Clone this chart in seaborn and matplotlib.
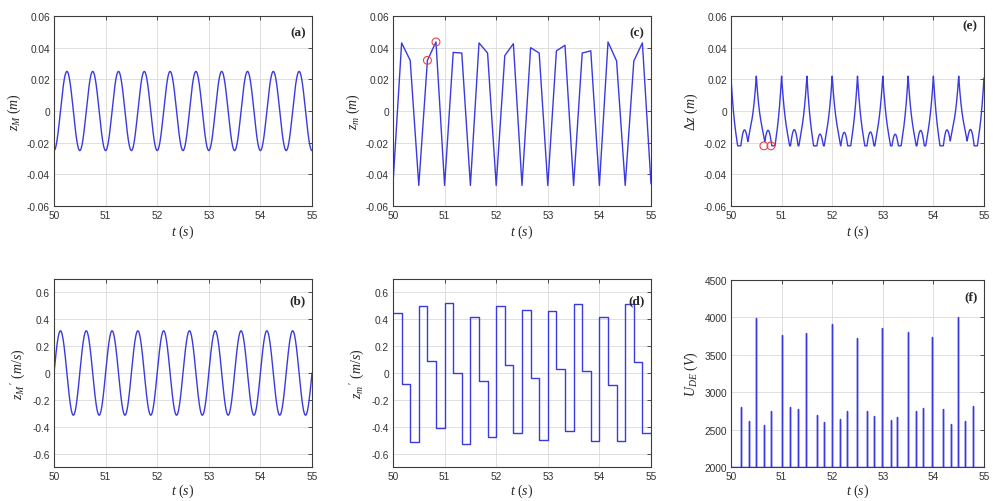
import numpy as np
import pandas as pd
import matplotlib
matplotlib.use("Agg")
import matplotlib.pyplot as plt
import seaborn as sns

# ---------------- data ----------------
# (a)/(b): harmonic base motion z_M
zM_amp = 0.025        # m
zM_freq = 2.0         # Hz
zM_t0 = 50.0          # time of a trough

# (c): z_m vertices
zm_t = [50.000, 50.167, 50.333, 50.500, 50.667, 50.833, 51.000, 51.167, 51.333, 51.500,
        51.667, 51.833, 52.000, 52.167, 52.333, 52.500, 52.667, 52.833, 53.000, 53.167,
        53.333, 53.500, 53.667, 53.833, 54.000, 54.167, 54.333, 54.500, 54.667, 54.833,
        55.000]
zm_v = [-0.046, 0.043, 0.032, -0.047, 0.032, 0.0436, -0.047, 0.037, 0.0366, -0.047,
        0.043, 0.0366, -0.047, 0.035, 0.0425, -0.047, 0.040, 0.0366, -0.047, 0.038,
        0.0415, -0.047, 0.0366, 0.038, -0.047, 0.0436, 0.0316, -0.047, 0.0316, 0.043,
        -0.046]
zm_mark_t = [50.667, 50.833]
zm_mark_v = [0.032, 0.0436]

# (d): z_m' step levels (one per interval of zm_t)
zmd_v = [0.445, -0.079, -0.514, 0.499, 0.086, -0.41, 0.518, -0.003, -0.526, 0.42,
         -0.059, -0.477, 0.50, 0.059, -0.445, 0.469, -0.035, -0.50, 0.462, 0.027,
         -0.435, 0.513, 0.015, -0.507, 0.42, -0.091, -0.507, 0.513, 0.083, -0.445]

# (e): gap limits and marked points
dz_lim = 0.022
dz_mark_t = [50.65, 50.79]
dz_mark_v = [-0.022, -0.022]

# (f): voltage spikes
ude_base = 2000
ude_t = [50.20, 50.35, 50.50, 50.66, 50.79, 51.00, 51.17, 51.32, 51.49, 51.70,
         51.83, 52.00, 52.16, 52.30, 52.49, 52.68, 52.82, 52.99, 53.16, 53.29,
         53.49, 53.66, 53.80, 53.98, 54.19, 54.34, 54.48, 54.63, 54.78]
ude_v = [2802, 2617, 3991, 2568, 2749, 3762, 2797, 2780, 3793, 2696,
         2599, 3907, 2643, 2753, 3731, 2753, 2683, 3855, 2626, 2665,
         3811, 2753, 2784, 3740, 2771, 2577, 4009, 2617, 2811]

x_ticks = [50, 51, 52, 53, 54, 55]
x_ticklabels = ["50", "51", "52", "53", "54", "55"]
z_ticks = [-0.06, -0.04, -0.02, 0, 0.02, 0.04, 0.06]
z_ticklabels = ["-0.06", "-0.04", "-0.02", "0", "0.02", "0.04", "0.06"]
v_ticks = [-0.6, -0.4, -0.2, 0, 0.2, 0.4, 0.6]
v_ticklabels = ["-0.6", "-0.4", "-0.2", "0", "0.2", "0.4", "0.6"]
u_ticks = [2000, 2500, 3000, 3500, 4000, 4500]
u_ticklabels = ["2000", "2500", "3000", "3500", "4000", "4500"]

# ---------------- derived series ----------------
t = np.linspace(50, 55, 4001)
w = 2 * np.pi * zM_freq
zM = -zM_amp * np.cos(w * (t - zM_t0))
zMd = zM_amp * w * np.sin(w * (t - zM_t0))
zm_dense = np.interp(t, zm_t, zm_v)
dz = np.clip(zM - zm_dense, -dz_lim, dz_lim)

step_t = list(zm_t)
step_v = list(zmd_v) + [zmd_v[-1]]

sp_t, sp_v = [50.0], [ude_base]
for ti, vi in zip(ude_t, ude_v):
    sp_t += [ti, ti, ti]
    sp_v += [ude_base, vi, ude_base]
sp_t.append(55.0)
sp_v.append(ude_base)

# ---------------- styling ----------------
sns.set_style("white")
plt.rcParams["font.family"] = ["Liberation Sans", "DejaVu Sans"]
plt.rcParams["mathtext.fontset"] = "custom"
plt.rcParams["mathtext.it"] = "Liberation Serif:italic"
plt.rcParams["mathtext.rm"] = "Liberation Serif"
plt.rcParams["mathtext.cal"] = "Liberation Serif:italic"

LINE = "#3a3ae0"
GRID = "#dedede"
SPINE = "#3c3c3c"
TICKC = "#333333"

fig = plt.figure(figsize=(9.93, 5.02), dpi=100)
W, H = 993.0, 502.0


def make_ax(left, top, right, bottom):
    return fig.add_axes([left / W, 1 - bottom / H, (right - left) / W, (bottom - top) / H])


def style(ax, yticks, yticklabels, ylim, ylabel, letter, letter_y, xlabelpad=2):
    ax.set_xlim(50, 55)
    ax.set_ylim(*ylim)
    ax.set_xticks(x_ticks)
    ax.set_xticklabels(x_ticklabels)
    ax.set_yticks(yticks)
    ax.set_yticklabels(yticklabels)
    ax.grid(True, color=GRID, lw=0.7)
    ax.set_axisbelow(True)
    for s in ax.spines.values():
        s.set_visible(True)
        s.set_color(SPINE)
        s.set_linewidth(0.8)
    ax.tick_params(direction="in", length=3, width=0.6, top=True, right=True,
                   labelsize=7.3, colors=TICKC, pad=3)
    ax.set_xlabel(r"$t\ (s)$", fontsize=10, labelpad=xlabelpad)
    ax.set_ylabel(ylabel, fontsize=10, labelpad=3)
    ax.text(0.975, letter_y, letter, transform=ax.transAxes, ha="right", va="center",
            fontsize=9.5, fontweight="bold", family="Liberation Serif")


axA = make_ax(54, 17, 312, 207)
axC = make_ax(393, 17, 651, 207)
axE = make_ax(731, 17, 984, 207)
axB = make_ax(54, 280, 312, 468)
axD = make_ax(393, 280, 651, 468)
axF = make_ax(731, 281, 984, 468)

# (a)
sns.lineplot(x=t, y=zM, ax=axA, color=LINE, lw=1.0, estimator=None, sort=False)
style(axA, z_ticks, z_ticklabels, (-0.06, 0.06), r"$z_M\ (m)$", "(a)", 0.915)

# (c)
sns.lineplot(x=zm_t, y=zm_v, ax=axC, color=LINE, lw=1.0, estimator=None, sort=False)
axC.scatter(zm_mark_t, zm_mark_v, s=32, facecolors="none", edgecolors="#e8454f", linewidths=0.8, zorder=5)
style(axC, z_ticks, z_ticklabels, (-0.06, 0.06), r"$z_m\ (m)$", "(c)", 0.915)

# (e)
sns.lineplot(x=t, y=dz, ax=axE, color=LINE, lw=1.0, estimator=None, sort=False)
axE.scatter(dz_mark_t, dz_mark_v, s=32, facecolors="none", edgecolors="#e8454f", linewidths=0.8, zorder=5)
style(axE, z_ticks, z_ticklabels, (-0.06, 0.06), r"$\Delta z\ (m)$", "(e)", 0.95)

# (b)
sns.lineplot(x=t, y=zMd, ax=axB, color=LINE, lw=1.0, estimator=None, sort=False)
style(axB, v_ticks, v_ticklabels, (-0.7, 0.7), r"$z_M\,'\ (m/s)$", "(b)", 0.885, xlabelpad=0)

# (d)
sns.lineplot(x=step_t, y=step_v, ax=axD, color=LINE, lw=1.0, estimator=None, sort=False,
             drawstyle="steps-post")
style(axD, v_ticks, v_ticklabels, (-0.7, 0.7), r"$z_m\,'\ (m/s)$", "(d)", 0.885, xlabelpad=0)

# (f)
sns.lineplot(x=sp_t, y=sp_v, ax=axF, color=LINE, lw=1.0, estimator=None, sort=False)
style(axF, u_ticks, u_ticklabels, (2000, 4500), r"$U_{DE}\ (V)$", "(f)", 0.915, xlabelpad=0)

fig.savefig("out.png", dpi=100)
